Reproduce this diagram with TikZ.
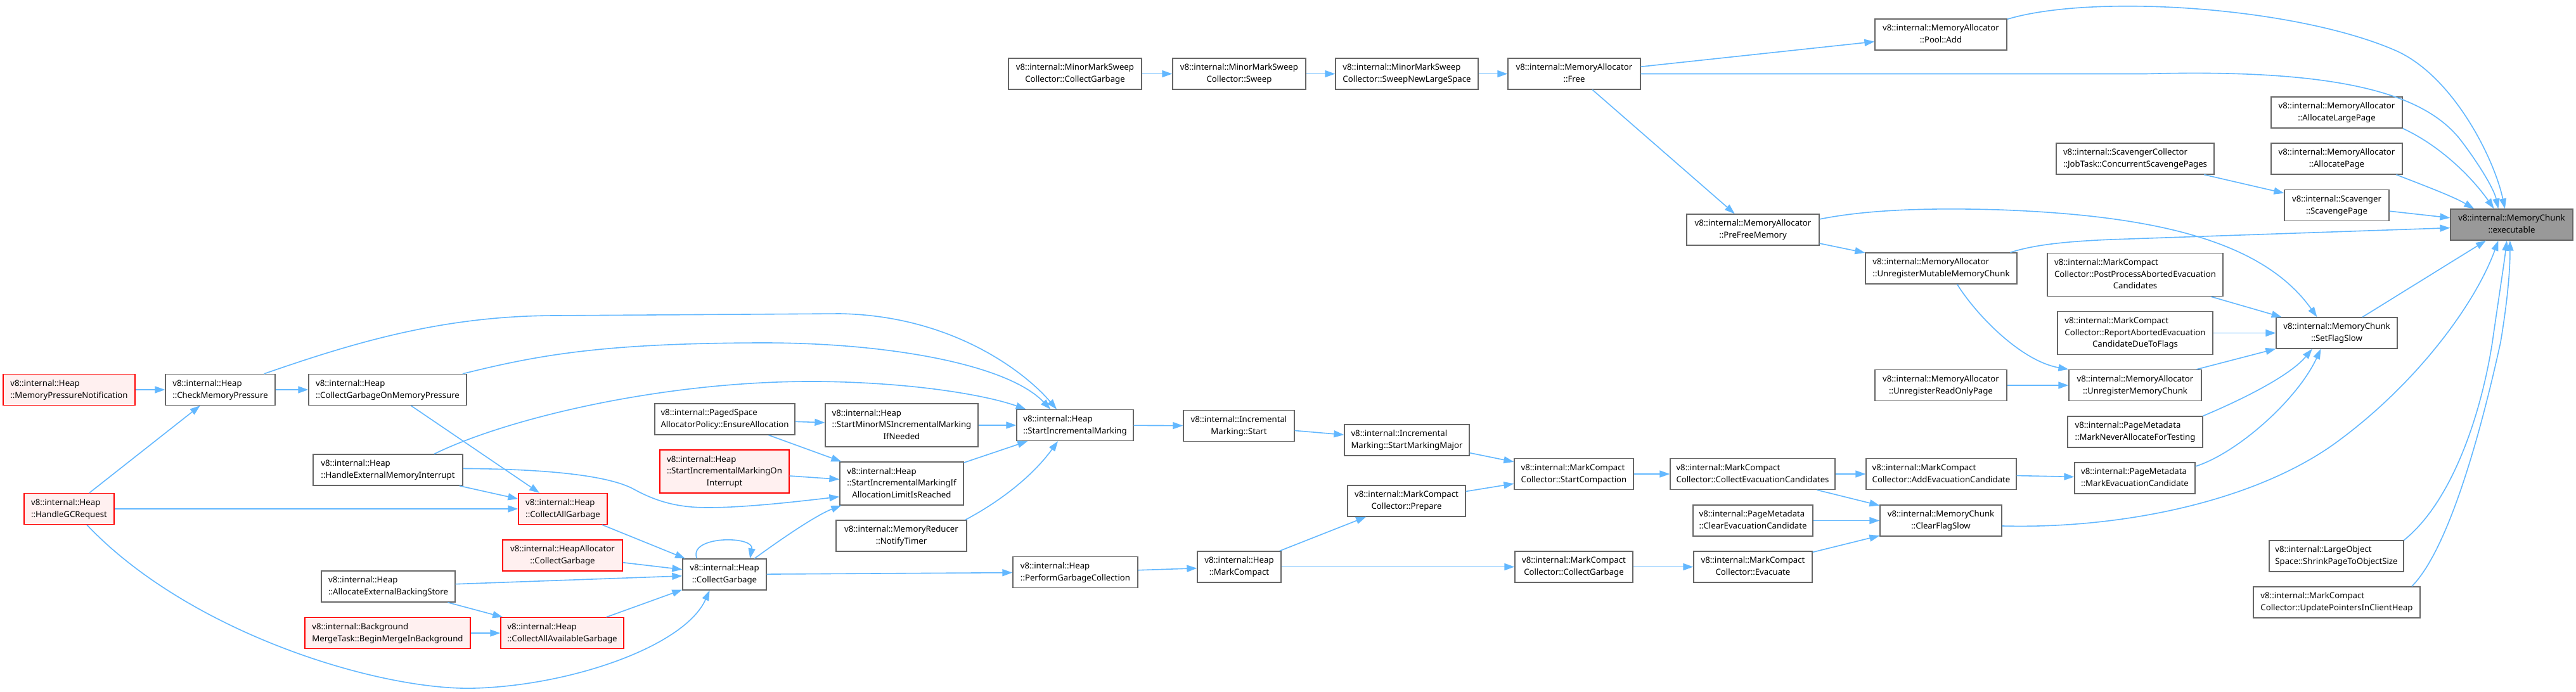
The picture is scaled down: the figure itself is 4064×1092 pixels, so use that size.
\documentclass[tikz,border=0pt]{standalone}
\usepackage{fontspec}
\setmainfont{Noto Sans}
\usetikzlibrary{arrows.meta}
\definecolor{edgeblue}{HTML}{63B8FF}
\definecolor{boxgray}{HTML}{666666}
\definecolor{redfill}{HTML}{FFF0F0}
\definecolor{tgtgray}{HTML}{999999}
\newcommand{\dxfont}{\fontsize{13.2}{18.7}\selectfont}
\newcommand{\twol}[2]{\begin{tabular}{@{}l@{}}#1\\\multicolumn{1}{@{}c@{}}{#2}\end{tabular}}
\newcommand{\thrl}[3]{\begin{tabular}{@{}l@{}}#1\\#2\\\multicolumn{1}{@{}c@{}}{#3}\end{tabular}}
\tikzset{
  dbox/.style={draw=boxgray, fill=white, line width=1.3pt, inner sep=0pt, minimum height=49pt, font=\dxfont, text=black},
  redbox/.style={dbox, draw=red, fill=redfill},
  tgt/.style={dbox, fill=tgtgray},
  tallbox/.style={minimum height=68pt},
  conn/.style={draw=edgeblue, line width=1.6pt, -{Triangle[length=16pt,width=11pt]}}
}
\begin{document}
\begin{tikzpicture}[x=1pt,y=-1pt]
\fill[white] (0,0) rectangle (4064,1092);
\useasboundingbox (0,0) rectangle (4064,1092);

% nodes
\node[redbox, minimum width=208pt] (MPN) at (109,615) {\twol{v8::internal::Heap}{::MemoryPressureNotification}};
\node[dbox, minimum width=173pt] (CMP) at (347.5,615) {\twol{v8::internal::Heap}{::CheckMemoryPressure}};
\node[dbox, minimum width=249pt] (CGOMP) at (611.5,615) {\twol{v8::internal::Heap}{::CollectGarbageOnMemoryPressure}};
\node[dbox, minimum width=236pt] (HEMI) at (612,741.5) {\twol{v8::internal::Heap}{::HandleExternalMemoryInterrupt}};
\node[redbox, minimum width=142pt] (HGC) at (109,803) {\twol{v8::internal::Heap}{::HandleGCRequest}};
\node[redbox, minimum width=140pt] (CAG) at (888,803) {\twol{v8::internal::Heap}{::CollectAllGarbage}};
\node[redbox, minimum width=189pt] (HACG) at (887.5,876.5) {\twol{v8::internal::HeapAllocator}{::CollectGarbage}};
\node[dbox, minimum width=211pt] (AEBS) at (612.5,925.5) {\twol{v8::internal::Heap}{::AllocateExternalBackingStore}};
\node[redbox, minimum width=261pt] (BMT) at (611.5,999) {\twol{v8::internal::Background}{MergeTask::BeginMergeInBackground}};
\node[redbox, minimum width=194pt] (CAAG) at (887,999) {\twol{v8::internal::Heap}{::CollectAllAvailableGarbage}};
\node[dbox, minimum width=221pt] (PSAP) at (1143.5,661.5) {\twol{v8::internal::PagedSpace}{AllocatorPolicy::EnsureAllocation}};
\node[dbox, tallbox, minimum width=241pt] (SMMS) at (1422.5,671) {\thrl{v8::internal::Heap}{::StartMinorMSIncrementalMarking}{IfNeeded}};
\node[dbox, minimum width=184pt] (SIM) at (1696,671) {\twol{v8::internal::Heap}{::StartIncrementalMarking}};
\node[dbox, minimum width=175pt] (IMS) at (1954.5,672) {\twol{v8::internal::Incremental}{Marking::Start}};
\node[redbox, tallbox, minimum width=204pt] (SIMOI) at (1143,744) {\thrl{v8::internal::Heap}{::StartIncrementalMarkingOn}{Interrupt}};
\node[dbox, tallbox, minimum width=195pt] (SIMIALR) at (1422.5,763) {\thrl{v8::internal::Heap}{::StartIncrementalMarkingIf}{AllocationLimitIsReached}};
\node[dbox, minimum width=206pt] (MRNT) at (1422,845.5) {\twol{v8::internal::MemoryReducer}{::NotifyTimer}};
\node[dbox, minimum width=132pt] (HCG) at (1143,906.5) {\twol{v8::internal::Heap}{::CollectGarbage}};
\node[dbox, minimum width=197pt] (PGC) at (1696.5,903) {\twol{v8::internal::Heap}{::PerformGarbageCollection}};
\node[dbox, minimum width=132pt] (HMC) at (1955,894.5) {\twol{v8::internal::Heap}{::MarkCompact}};
\node[dbox, minimum width=210pt] (MMSCG) at (1696,116.5) {\twol{v8::internal::MinorMarkSweep}{Collector::CollectGarbage}};
\node[dbox, minimum width=210pt] (MMSS) at (1955,116.5) {\twol{v8::internal::MinorMarkSweep}{Collector::Sweep}};
\node[dbox, minimum width=225pt] (MMSSNLS) at (2219.5,116.5) {\twol{v8::internal::MinorMarkSweep}{Collector::SweepNewLargeSpace}};
\node[dbox, minimum width=209pt] (MAF) at (2483.5,116.5) {\twol{v8::internal::MemoryAllocator}{::Free}};
\node[dbox, minimum width=208pt] (PoolAdd) at (3062,54.5) {\twol{v8::internal::MemoryAllocator}{::Pool::Add}};
\node[dbox, minimum width=209pt] (PFM) at (2765.5,362.5) {\twol{v8::internal::MemoryAllocator}{::PreFreeMemory}};
\node[dbox, minimum width=239pt] (UMMC) at (3062.5,423.5) {\twol{v8::internal::MemoryAllocator}{::UnregisterMutableMemoryChunk}};
\node[dbox, minimum width=197pt] (IMSMM) at (2219.5,694.5) {\twol{v8::internal::Incremental}{Marking::StartMarkingMajor}};
\node[dbox, minimum width=188pt] (MCSC) at (2483,748) {\twol{v8::internal::MarkCompact}{Collector::StartCompaction}};
\node[dbox, minimum width=260pt] (MCCEC) at (2765,748) {\twol{v8::internal::MarkCompact}{Collector::CollectEvacuationCandidates}};
\node[dbox, minimum width=237pt] (MCAEC) at (3062.5,748) {\twol{v8::internal::MarkCompact}{Collector::AddEvacuationCandidate}};
\node[dbox, minimum width=186pt] (MCP) at (2219,790.5) {\twol{v8::internal::MarkCompact}{Collector::Prepare}};
\node[dbox, minimum width=189pt] (PMCEC) at (2765.5,821.5) {\twol{v8::internal::PageMetadata}{::ClearEvacuationCandidate}};
\node[dbox, minimum width=192pt] (MCCFS) at (3062,821.5) {\twol{v8::internal::MemoryChunk}{::ClearFlagSlow}};
\node[dbox, minimum width=186pt] (MCCG) at (2483,894.5) {\twol{v8::internal::MarkCompact}{Collector::CollectGarbage}};
\node[dbox, minimum width=187pt] (MCE) at (2765.5,894.5) {\twol{v8::internal::MarkCompact}{Collector::Evacuate}};
\node[dbox, minimum width=208pt] (UROP) at (3062,608) {\twol{v8::internal::MemoryAllocator}{::UnregisterReadOnlyPage}};
\node[dbox, minimum width=207pt] (ALP) at (3686.5,177.5) {\twol{v8::internal::MemoryAllocator}{::AllocateLargePage}};
\node[dbox, minimum width=207pt] (AP) at (3686.5,250.5) {\twol{v8::internal::MemoryAllocator}{::AllocatePage}};
\node[dbox, minimum width=249pt] (SCJT) at (3368.5,250.5) {\twol{v8::internal::ScavengerCollector}{::JobTask::ConcurrentScavengePages}};
\node[dbox, minimum width=165pt] (SSP) at (3686.5,324) {\twol{v8::internal::Scavenger}{::ScavengePage}};
\node[tgt, minimum width=193pt] (EXE) at (3962.5,354.5) {\twol{v8::internal::MemoryChunk}{::executable}};
\node[dbox, tallbox, minimum width=277pt] (PPAEC) at (3368.5,433.5) {\thrl{v8::internal::MarkCompact}{Collector::PostProcessAbortedEvacuation}{Candidates}};
\node[dbox, minimum width=191pt] (SFS) at (3686.5,525.5) {\twol{v8::internal::MemoryChunk}{::SetFlagSlow}};
\node[dbox, tallbox, minimum width=245pt] (RAEC) at (3368.5,525.5) {\thrl{v8::internal::MarkCompact}{Collector::ReportAbortedEvacuation}{CandidateDueToFlags}};
\node[dbox, minimum width=209pt] (UMC) at (3368.5,608) {\twol{v8::internal::MemoryAllocator}{::UnregisterMemoryChunk}};
\node[dbox, minimum width=213pt] (PMNAFT) at (3368.5,681.5) {\twol{v8::internal::PageMetadata}{::MarkNeverAllocateForTesting}};
\node[dbox, minimum width=190pt] (PMMEC) at (3368,754.5) {\twol{v8::internal::PageMetadata}{::MarkEvacuationCandidate}};
\node[dbox, minimum width=212pt] (LOS) at (3686,877.5) {\twol{v8::internal::LargeObject}{Space::ShrinkPageToObjectSize}};
\node[dbox, minimum width=263pt] (MCUP) at (3686.5,950.5) {\twol{v8::internal::MarkCompact}{Collector::UpdatePointersInClientHeap}};

% connectors
\draw[conn] (MPN) -- (CMP);
\draw[conn] (HGC) -- (CMP);
\draw[conn] (CMP) -- (CGOMP);
\draw[conn] (CMP.20) .. controls (560,540) and (700,498) .. (878,498) -- (1325,495) .. controls (1500,498) and (1615,585) .. (SIM.139);
\draw[conn] (CGOMP.12) .. controls (850,560) and (950,542) .. (1195,541) .. controls (1400,540) and (1590,575) .. (SIM.147);
\draw[conn] (HEMI.19) .. controls (800,660) and (1050,600) .. (1293,602) .. controls (1450,604) and (1560,625) .. (SIM.162);
\draw[conn] (CGOMP) -- (CAG);
\draw[conn] (HEMI) -- (CAG);
\draw[conn] (HEMI.1) .. controls (860,740) and (960,750) .. (1000,772) .. controls (1040,794) and (1075,801) .. (1117,801) .. controls (1180,801) and (1270,790) .. (SIMIALR.192);
\draw[conn] (HGC) -- (CAG);
\draw[conn] (HGC.318) .. controls (300,1000) and (600,1090) .. (748,1086) .. controls (900,1082) and (1080,1020) .. (HCG.227);
\draw[conn] (CAG) -- (HCG);
\draw[conn] (HACG) -- (HCG);
\draw[conn] (AEBS) -- (HCG);
\draw[conn] (AEBS) -- (CAAG);
\draw[conn] (BMT) -- (CAAG);
\draw[conn] (CAAG) -- (HCG);
\draw[conn] (HCG.150) .. controls (1085,845) and (1190,845) .. (HCG.32);
\draw[conn] (HCG.28) .. controls (1240,845) and (1290,812) .. (SIMIALR.200);
\draw[conn] (HCG) -- (PGC);
\draw[conn] (PSAP) -- (SMMS);
\draw[conn] (PSAP) -- (SIMIALR);
\draw[conn] (SIMOI) -- (SIMIALR);
\draw[conn] (SMMS) -- (SIM);
\draw[conn] (SIMIALR) -- (SIM);
\draw[conn] (MRNT.14) .. controls (1580,790) and (1630,750) .. (SIM.223);
\draw[conn] (SIM) -- (IMS);
\draw[conn] (IMS) -- (IMSMM);
\draw[conn] (IMSMM) -- (MCSC);
\draw[conn] (MCP) -- (MCSC);
\draw[conn] (HMC) -- (MCP);
\draw[conn] (HMC) -- (MCCG);
\draw[conn] (PGC) -- (HMC);
\draw[conn] (MCSC) -- (MCCEC);
\draw[conn] (MCCEC) -- (MCAEC);
\draw[conn] (MCCEC) -- (MCCFS);
\draw[conn] (PMCEC) -- (MCCFS);
\draw[conn] (MCCG) -- (MCE);
\draw[conn] (MCE) -- (MCCFS);
\draw[conn] (MCAEC) -- (PMMEC);
\draw[conn] (PMMEC.11) .. controls (3530,715) and (3625,630) .. (SFS.225);
\draw[conn] (PMNAFT.north east) .. controls (3550,625) and (3615,590) .. (SFS.213);
\draw[conn] (UMC) -- (SFS);
\draw[conn] (UROP) -- (UMC);
\draw[conn] (UMMC.315) .. controls (3120,500) and (3190,570) .. (UMC.north west);
\draw[conn] (PFM) -- (UMMC);
\draw[conn] (MAF) -- (PFM);
\draw[conn] (MAF) -- (PoolAdd);
\draw[conn] (MAF.east) -- (3386,116.5) .. controls (3700,108) and (3830,150) .. (3885,225) .. controls (3915,265) and (3935,300) .. (EXE.130);
\draw[conn] (PoolAdd.13) .. controls (3300,-10) and (3620,10) .. (3780,80) .. controls (3870,120) and (3935,250) .. (EXE.113);
\draw[conn] (MMSCG) -- (MMSS);
\draw[conn] (MMSS) -- (MMSSNLS);
\draw[conn] (MMSSNLS) -- (MAF);
\draw[conn] (PFM.9) .. controls (2950,330) and (3050,328) .. (3153,331) .. controls (3400,340) and (3570,380) .. (SFS.141);
\draw[conn] (UMMC.13) .. controls (3210,386) and (3260,381) .. (3330,378) -- (EXE.183);
\draw[conn] (ALP.south east) .. controls (3850,230) and (3900,280) .. (EXE.138);
\draw[conn] (AP.345) .. controls (3830,295) and (3870,310) .. (EXE.157);
\draw[conn] (SCJT) -- (SSP);
\draw[conn] (SSP) -- (EXE);
\draw[conn] (PPAEC) -- (SFS);
\draw[conn] (RAEC) -- (SFS);
\draw[conn] (SFS) -- (EXE);
\draw[conn] (MCCFS.355) .. controls (3350,835) and (3560,790) .. (3686,698) .. controls (3812,606) and (3905,480) .. (EXE.230);
\draw[conn] (LOS.north east) .. controls (3870,790) and (3915,650) .. (3932,540) .. controls (3942,470) and (3950,420) .. (EXE.253);
\draw[conn] (MCUP.12) .. controls (3860,870) and (3910,700) .. (3945,540) .. controls (3955,480) and (3960,430) .. (EXE.264);
\end{tikzpicture}
\end{document}
